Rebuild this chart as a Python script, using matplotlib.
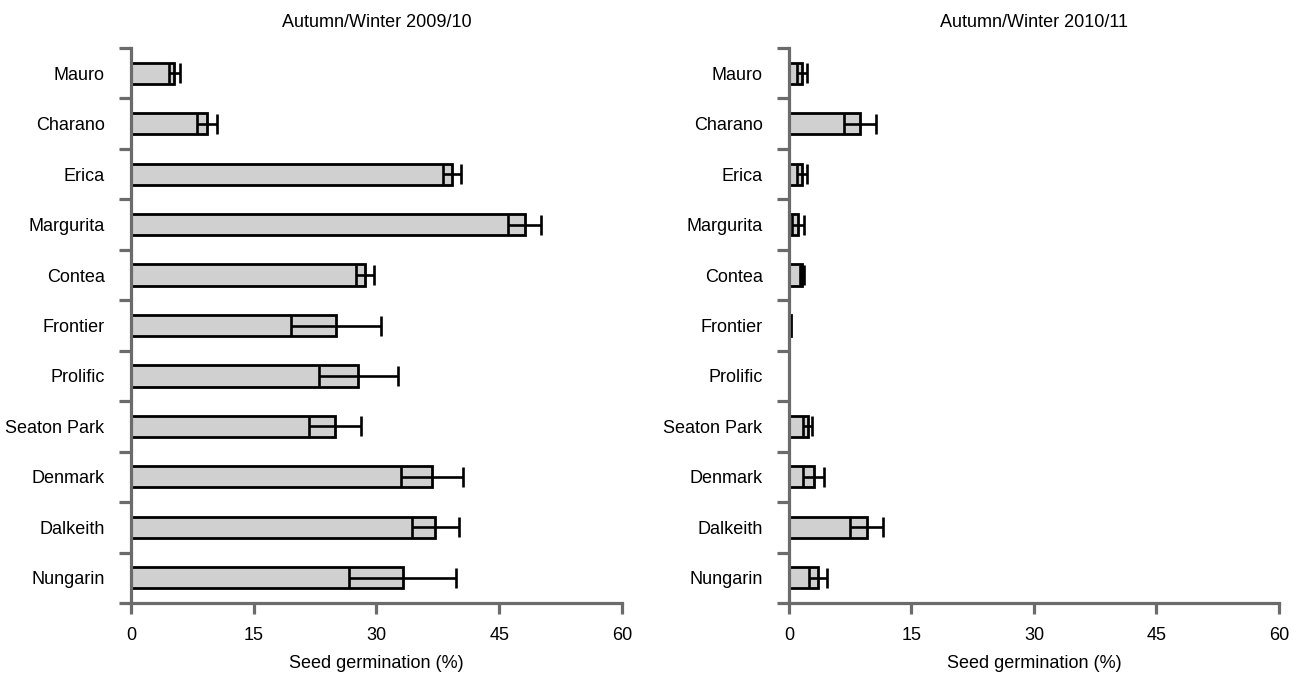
import numpy as np
import matplotlib
matplotlib.use("Agg")
import matplotlib.pyplot as plt

plt.rcParams["font.family"] = ["Liberation Sans Narrow", "Liberation Sans", "DejaVu Sans"]

cultivars = ["Mauro", "Charano", "Erica", "Margurita", "Contea", "Frontier",
             "Prolific", "Seaton Park", "Denmark", "Dalkeith", "Nungarin"]

# mean seed germination (%) and standard error, per season
germ_0910 = [5.3, 9.3, 39.2, 48.1, 28.6, 25.0, 27.8, 24.9, 36.8, 37.2, 33.2]
se_0910 = [0.7, 1.2, 1.1, 2.0, 1.1, 5.5, 4.8, 3.2, 3.8, 2.9, 6.5]
germ_1011 = [1.6, 8.7, 1.6, 1.1, 1.6, 0.3, 0.0, 2.3, 3.0, 9.5, 3.6]
se_1011 = [0.6, 2.0, 0.6, 0.7, 0.2, 0.0, 0.0, 0.55, 1.3, 2.0, 1.1]

seasons = ["Autumn/Winter 2009/10", "Autumn/Winter 2010/11"]
x_ticks = [0, 15, 30, 45, 60]

AXIS_GREY = "#6b6b6b"
BAR_GREY = "#cfd0cf"
FS = 13


def draw_panel(ax, title, vals, errs):
    y = np.arange(len(cultivars))
    vals = np.asarray(vals)
    errs = np.asarray(errs)

    ax.barh(y, vals, height=0.42, color=BAR_GREY, edgecolor="black",
            linewidth=2.0, zorder=1)
    has_err = errs > 0
    ax.errorbar(vals[has_err], y[has_err], xerr=errs[has_err], fmt="none",
                ecolor="black", elinewidth=1.9, capsize=7, capthick=1.9,
                zorder=2)

    ax.set_xlim(0, 60)
    ax.set_ylim(len(cultivars) - 0.5, -0.5)

    for side in ("top", "right"):
        ax.spines[side].set_visible(False)
    for side in ("left", "bottom"):
        ax.spines[side].set_color(AXIS_GREY)
        ax.spines[side].set_linewidth(2.3)
        ax.spines[side].set_zorder(3)

    # boundary ticks between cultivars, labels centred on the bars
    ax.set_yticks(np.arange(len(cultivars) + 1) - 0.5)
    ax.set_yticklabels([])
    ax.set_yticks(y, minor=True)
    ax.set_yticklabels(cultivars, minor=True, fontsize=FS)
    ax.tick_params(axis="y", which="major", length=9, width=2.3,
                   color=AXIS_GREY, direction="out")
    ax.tick_params(axis="y", which="minor", length=0, pad=19)

    ax.set_xticks(x_ticks)
    ax.set_xticklabels([str(t) for t in x_ticks], fontsize=FS)
    ax.tick_params(axis="x", length=8, width=2.3, color=AXIS_GREY,
                   direction="out", pad=9.5)

    ax.set_xlabel("Seed germination (%)", fontsize=FS, labelpad=8)
    ax.set_title(title, fontsize=FS, pad=15)


fig = plt.figure(figsize=(13.02, 6.77), dpi=100)
ax1 = fig.add_axes([0.1006, 0.1093, 0.3771, 0.8198])
ax2 = fig.add_axes([0.6060, 0.1093, 0.3763, 0.8198])

draw_panel(ax1, seasons[0], germ_0910, se_0910)
draw_panel(ax2, seasons[1], germ_1011, se_1011)

fig.savefig("out.png", dpi=100)
